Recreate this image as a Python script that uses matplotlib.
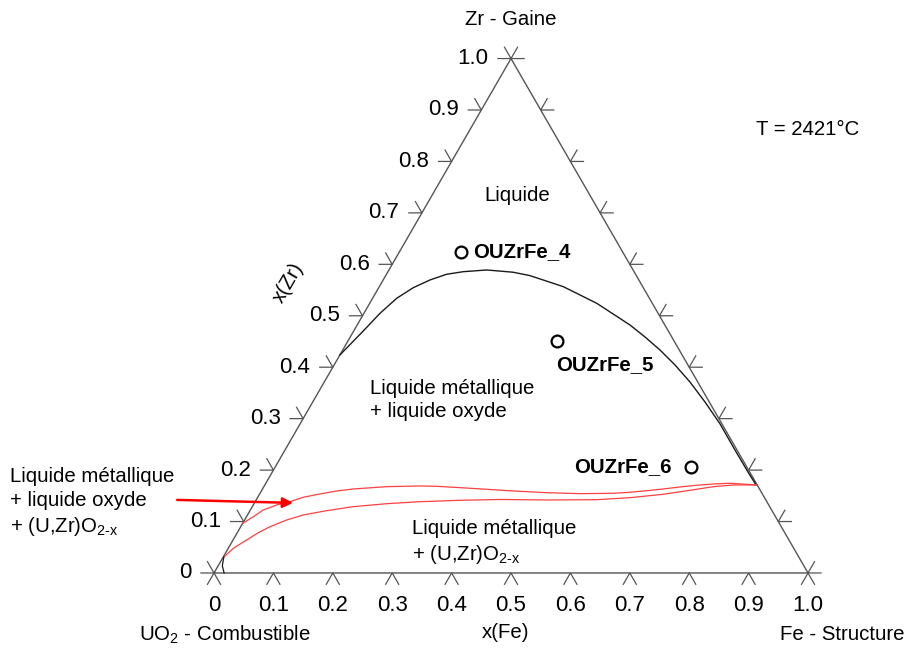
import numpy as np
import matplotlib
matplotlib.use("Agg")
import matplotlib.pyplot as plt

plt.rcParams["font.family"] = ["Liberation Sans", "DejaVu Sans"]
plt.rcParams["mathtext.fontset"] = "custom"
plt.rcParams["mathtext.rm"] = "Liberation Sans"
plt.rcParams["mathtext.it"] = "Liberation Sans:italic"

# compositions (x(Fe), x(Zr)), remainder = UO2
TICKS = [0.0, 0.1, 0.2, 0.3, 0.4, 0.5, 0.6, 0.7, 0.8, 0.9, 1.0]
TICK_LABELS = ["0", "0.1", "0.2", "0.3", "0.4", "0.5", "0.6", "0.7", "0.8", "0.9", "1.0"]

# limite liquide / lacune de miscibilite
gap_fe = [0.000, 0.0161, 0.0271, 0.0406, 0.0582, 0.0788, 0.1014, 0.1268, 0.1646,
          0.2116, 0.2430, 0.3097, 0.3821, 0.4592, 0.4962, 0.5340, 0.5739, 0.6156,
          0.6604, 0.7071, 0.7575, 0.8008, 0.8270]
gap_zr = [0.4238, 0.4705, 0.5049, 0.5340, 0.5546, 0.5696, 0.5807, 0.5857, 0.5890,
          0.5846, 0.5780, 0.5566, 0.5243, 0.4821, 0.4588, 0.4335, 0.4044, 0.3713,
          0.3324, 0.2897, 0.2391, 0.1963, 0.1711]

# limites du domaine triphase (rouge)
red_up_fe = [0.000, 0.0115, 0.0218, 0.0395, 0.0586, 0.0767, 0.1017, 0.1269, 0.1529,
             0.2068, 0.2622, 0.2906, 0.3487, 0.4242, 0.4820, 0.5391, 0.5947, 0.6219,
             0.6485, 0.6748, 0.7009, 0.7274, 0.7541, 0.7815, 0.8106, 0.8270]
red_up_zr = [0.0966, 0.1094, 0.1225, 0.1322, 0.1386, 0.1472, 0.1536, 0.1594, 0.1633,
             0.1678, 0.1691, 0.1685, 0.1647, 0.1594, 0.1561, 0.1542, 0.1549, 0.1569,
             0.1600, 0.1633, 0.1672, 0.1705, 0.1730, 0.1744, 0.1724, 0.1711]
red_lo_fe = [0.001, 0.0085, 0.0230, 0.0354, 0.0493, 0.0709, 0.0939, 0.1291, 0.1701,
             0.2233, 0.2775, 0.3434, 0.4101, 0.4891, 0.5731, 0.6271, 0.6799, 0.7312,
             0.7567, 0.7887, 0.8270]
red_lo_zr = [0.0305, 0.0480, 0.0642, 0.0783, 0.0900, 0.1030, 0.1128, 0.1211, 0.1289,
             0.1347, 0.1386, 0.1413, 0.1429, 0.1419, 0.1425, 0.1464, 0.1530, 0.1627,
             0.1678, 0.1711, 0.1711]

# petite limite pres du coin UO2
sol_fe = [0.001, 0.007, 0.017]
sol_zr = [0.031, 0.014, 0.000]

# points experimentaux
pt_names = ["OUZrFe_4", "OUZrFe_5", "OUZrFe_6"]
pt_fe = [0.104, 0.352, 0.700]
pt_zr = [0.624, 0.451, 0.206]

H = np.sqrt(3) / 2


def tern(fe, zr):
    fe = np.asarray(fe, dtype=float)
    zr = np.asarray(zr, dtype=float)
    return fe + zr / 2, zr * H


fig = plt.figure(figsize=(9.05, 6.48), dpi=100)
ax = fig.add_axes([0, 0, 1, 1])
ax.set_xlim(-0.3603, 1.1633)
ax.set_ylim(-0.1263, 0.9646)
ax.axis("off")

EDGE = "#555555"
FS = 14.7
FS_TICK = 16
LS = 1.31

# triangle
tx, ty = tern([0, 1, 0, 0], [0, 0, 1, 0])
ax.plot(tx, ty, color=EDGE, lw=1.0)

# graduations
L = 0.022
for v, lab in zip(TICKS, TICK_LABELS):
    bx, by = tern(v, 0)
    ax.plot([bx - L / 2, bx, bx + L / 2], [by - L * H, by, by - L * H], color=EDGE, lw=0.9)
    lx, ly = tern(0, v)
    ax.plot([lx - L, lx, lx - L / 2], [ly, ly, ly + L * H], color=EDGE, lw=0.9)
    rx, ry = tern(1 - v, v)
    ax.plot([rx + L, rx, rx + L / 2], [ry, ry, ry + L * H], color=EDGE, lw=0.9)
    ax.text(lx - 0.038, ly, lab, ha="right", va="center", fontsize=FS_TICK)
    ax.text(bx, by - 0.054, lab, ha="center", va="center", fontsize=FS_TICK)

# courbes
gx, gy = tern(gap_fe, gap_zr)
ax.plot(gx, gy, color="#1a1a1a", lw=1.0)
ux, uy = tern(red_up_fe, red_up_zr)
ax.plot(ux, uy, color="#ff4040", lw=0.9)
lx_, ly_ = tern(red_lo_fe, red_lo_zr)
ax.plot(lx_, ly_, color="#ff4040", lw=0.9)
sx, sy = tern(sol_fe, sol_zr)
ax.plot(sx, sy, color="#1a1a1a", lw=0.9)

# points
px_, py_ = tern(pt_fe, pt_zr)
ax.plot(px_, py_, "o", ms=8.5, mfc="white", mec="black", mew=1.6, ls="none")
ax.text(px_[0] + 0.02, py_[0], pt_names[0], ha="left", va="center",
        fontsize=FS, fontweight="bold")
ax.text(px_[1] - 0.002, py_[1] - 0.039, pt_names[1], ha="left", va="center",
        fontsize=FS, fontweight="bold")
ax.text(px_[2] - 0.032, py_[2], pt_names[2], ha="right", va="center",
        fontsize=FS, fontweight="bold")

# textes
ax.text(0.5, 0.931, "Zr - Gaine", ha="center", va="center", fontsize=FS)
ax.text(1.0, 0.746, "T = 2421°C", ha="center", va="center", fontsize=FS)
ax.text(0.510, 0.635, "Liquide", ha="center", va="center", fontsize=FS)
ax.text(0.263, 0.291, "Liquide métallique\n+ liquide oxyde", ha="left", va="center",
        fontsize=FS, linespacing=LS)
ax.text(0.333, 0.051, "Liquide métallique\n+ (U,Zr)O$\\mathregular{_{2\\text{-}x}}$",
        ha="left", va="center", fontsize=FS, linespacing=LS)
ax.text(-0.343, 0.118,
        "Liquide métallique\n+ liquide oxyde\n+ (U,Zr)O$\\mathregular{_{2\\text{-}x}}$",
        ha="left", va="center", fontsize=FS, linespacing=LS)
ax.annotate("", xy=(0.133, 0.118), xytext=(-0.062, 0.123),
            arrowprops=dict(arrowstyle="-|>", color="red", lw=1.8,
                            mutation_scale=15, shrinkA=0, shrinkB=0))
ax.text(0.125, 0.488, "x(Zr)", ha="center", va="center", fontsize=FS, rotation=60)
ax.text(0.49, -0.101, "x(Fe)", ha="center", va="center", fontsize=FS)
ax.text(0.0185, -0.104, "U$\\mathregular{O_2}$ - Combustible", ha="center", va="center",
        fontsize=FS)
ax.text(1.057, -0.104, "Fe - Structure", ha="center", va="center", fontsize=FS)

fig.savefig("out.png", dpi=100)
